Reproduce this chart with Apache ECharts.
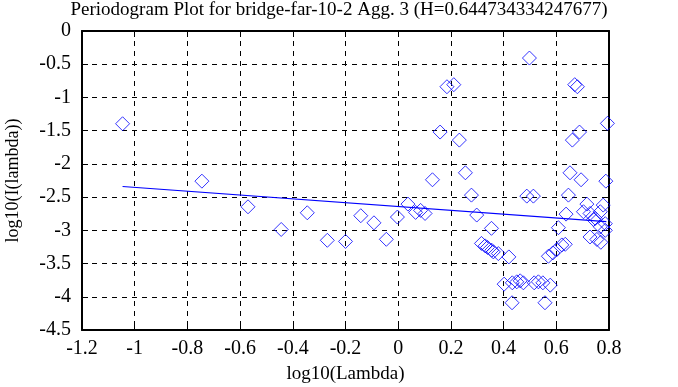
<!DOCTYPE html>
<html><head><meta charset="utf-8">
<script src="https://cdn.jsdelivr.net/npm/echarts@6/dist/echarts.min.js"></script>
<style>html,body{margin:0;padding:0;background:#fff}#c{width:678px;height:387px}</style>
</head><body><div id="c"></div>
<script>
const title = 'Periodogram Plot for bridge-far-10-2 Agg. 3 (H=0.644734334247677)';
const xName = 'log10(Lambda)';
const yName = 'log10(I(lambda))';
const logLambda = [-1.046,-0.745,-0.570,-0.444,-0.345,-0.269,-0.200,-0.142,-0.092,-0.045,-0.003,0.037,0.066,0.085,0.102,0.130,0.159,0.185,0.211,0.232,0.255,0.278,0.298,0.316,0.330,0.339,0.354,0.355,0.361,0.380,0.402,0.420,0.432,0.433,0.450,0.463,0.475,0.488,0.498,0.513,0.516,0.532,0.549,0.557,0.570,0.577,0.587,0.602,0.608,0.621,0.634,0.637,0.646,0.652,0.661,0.670,0.680,0.688,0.694,0.703,0.716,0.728,0.728,0.741,0.748,0.754,0.767,0.767,0.769,0.778,0.786,0.788,0.794,0.786];
const logI = [-1.396,-2.26,-2.646,-2.987,-2.736,-3.15,-3.167,-2.78,-2.887,-3.135,-2.80,-2.605,-2.73,-2.70,-2.746,-2.239,-1.521,-0.839,-0.808,-1.642,-2.134,-2.47,-2.77,-3.197,-3.234,-3.258,-2.97,-3.30,-3.324,-3.35,-3.81,-3.40,-4.09,-3.79,-3.775,-3.76,-3.79,-2.485,-0.407,-2.485,-3.79,-3.775,-3.79,-4.09,-3.39,-3.825,-3.34,-3.29,-2.96,-3.22,-3.21,-2.756,-2.47,-2.134,-1.642,-0.808,-0.839,-1.521,-2.239,-2.72,-2.605,-2.746,-3.10,-2.836,-2.82,-3.137,-2.72,-2.947,-3.18,-2.62,-2.90,-2.26,-1.39,-3.0];
const fitX = [-1.046, 0.79];
const fitY = [-2.34, -2.87];

const font = 'Liberation Serif';
const chart = echarts.init(document.getElementById('c'), null, {renderer:'canvas'});
const axisCommon = {
  axisLine:{show:true,onZero:false,lineStyle:{color:'#000',width:2}},
  axisTick:{show:true,inside:true,length:6,lineStyle:{color:'#000',width:1}},
  splitLine:{show:false}
};
chart.setOption({
  animation:false,
  title:{text:title,left:'center',top:-4,textStyle:{fontFamily:font,fontSize:19,fontWeight:'normal',color:'#000'}},
  grid:{left:82,right:69,top:31,bottom:57,containLabel:false,outerBoundsMode:'none'},
  xAxis:[
    Object.assign({type:'value',min:-1.2,max:0.8,interval:0.2,position:'bottom',
      name:xName,nameLocation:'middle',nameGap:35,
      nameTextStyle:{fontFamily:font,fontSize:19,color:'#000'},
      axisLabel:{fontFamily:font,fontSize:20,color:'#000',margin:9,formatter:v=>String(Math.round(v*10)/10)},
      splitLine:{show:true,lineStyle:{color:'#000',type:[5,5],width:1}}},
      {axisLine:axisCommon.axisLine,axisTick:axisCommon.axisTick}),
    Object.assign({type:'value',min:-1.2,max:0.8,interval:0.2,position:'top',axisLabel:{show:false}},axisCommon)
  ],
  yAxis:[
    Object.assign({type:'value',min:-4.5,max:0,interval:0.5,position:'left',
      name:yName,nameLocation:'middle',nameGap:60,nameRotate:90,
      nameTextStyle:{fontFamily:font,fontSize:18,color:'#000'},
      axisLabel:{fontFamily:font,fontSize:20,color:'#000',margin:11,formatter:v=>String(Math.round(v*10)/10)},
      splitLine:{show:true,lineStyle:{color:'#000',type:[5,5],width:1}}},
      {axisLine:axisCommon.axisLine,axisTick:axisCommon.axisTick}),
    Object.assign({type:'value',min:-4.5,max:0,interval:0.5,position:'right',axisLabel:{show:false}},axisCommon)
  ],
  series:[
    {type:'scatter',symbol:'diamond',symbolSize:14,xAxisIndex:0,yAxisIndex:0,
     data:logLambda.map((x,i)=>[x,logI[i]]),
     itemStyle:{color:'rgba(0,0,0,0)',borderColor:'#0000ff',borderWidth:1}},
    {type:'line',xAxisIndex:0,yAxisIndex:0,data:fitX.map((x,i)=>[x,fitY[i]]),
     showSymbol:false,symbol:'none',lineStyle:{color:'#0000ff',width:1.2}}
  ]
});
</script></body></html>
